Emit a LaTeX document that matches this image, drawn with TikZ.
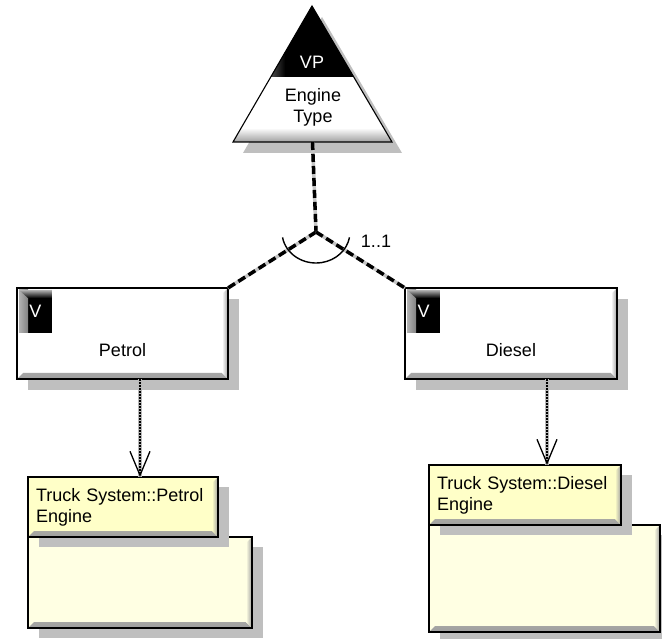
\documentclass[tikz,border=0pt]{standalone}
\usepackage{fontspec}
\setmainfont{Liberation Sans}
\usepackage{tikz}
\usetikzlibrary{arrows.meta,shadows,positioning}
\definecolor{hdryellow}{HTML}{FFFFC8}
\definecolor{bodyyellow}{HTML}{FFFFE3}

\begin{document}
\begin{tikzpicture}[x=1pt, y=-1pt, line width=1.1pt,
    every node/.style={font=\fontsize{18}{21}\selectfont, inner sep=0pt, outer sep=0pt},
    bevel/.style={path picture={
        \shade[top color=#1, bottom color=gray!75]
          (path picture bounding box.south west) -- (path picture bounding box.south east)
          -- ++(-6pt,6pt) -- ([shift={(6pt,6pt)}]path picture bounding box.south west) -- cycle;
        \shade[left color=#1, right color=gray!75]
          (path picture bounding box.south east) -- (path picture bounding box.north east)
          -- ++(-6pt,-6pt) -- ([shift={(-6pt,6pt)}]path picture bounding box.south east) -- cycle;
      }},
    varbox/.style={draw, rectangle, fill=white, bevel=white,
      drop shadow={shadow xshift=11pt, shadow yshift=-11pt, fill=gray!50, opacity=1}},
    classbox/.style={draw, rectangle, fill=#1, bevel=#1,
      drop shadow={shadow xshift=11pt, shadow yshift=-10pt, fill=gray!50, opacity=1}},
    vbox/.style={rectangle, fill=black, text=white, minimum width=33pt, minimum height=43pt,
      path picture={
        \shade[left color=gray!60, right color=black]
          (path picture bounding box.south west) rectangle ([xshift=9pt]path picture bounding box.north west);
        \shade[top color=gray!60, bottom color=black]
          (path picture bounding box.north west) -- (path picture bounding box.north east)
          -- ++(0pt,-8pt) -- ([shift={(9pt,-8pt)}]path picture bounding box.north west) -- cycle;
      }},
    vpedge/.style={preaction={draw, gray!45, line width=3.5pt}, black, line width=3.5pt,
      dash pattern=on 8pt off 4pt},
    dep/.style={preaction={draw, -, gray!55, line width=3.5pt}, black, line width=2.2pt,
      dash pattern=on 1.6pt off 1.4pt,
      -{Straight Barb[length=24pt, width=20pt, line width=1.3pt]}}]
    \useasboundingbox (0,0) rectangle (662,639);

    % Variation point
    \coordinate (vptop) at (312,6);
    \coordinate (vpleft) at (233,142);
    \coordinate (vpright) at (392,142);
    \coordinate (vpbase) at (312.5,142);
    \fill[gray!50] ([shift={(10pt,-11pt)}]vptop) -- ([shift={(10pt,-11pt)}]vpleft)
      -- ([shift={(10pt,-11pt)}]vpright) -- cycle;
    \begin{scope}
        \clip (vptop) -- (vpleft) -- (vpright) -- cycle;
        \fill[white] (230,0) rectangle (400,150);
        \fill[black] (230,0) rectangle (400,77);
        \shade[left color=gray!70, right color=black] (255,0) rectangle (285,77);
        \shade[top color=white, bottom color=gray!75] (230,128) rectangle (400,142);
    \end{scope}
    \draw (vptop) -- (vpleft) -- (vpright) -- cycle;
    \node[text=white] (vplabel) at (312,62) {VP};
    \node[align=center] (vpname) at (313,107.5) {Engine\\Type};

    % Variants
    \node[varbox, minimum width=211pt, minimum height=91pt] (petrol) at (122.5,333.5) {};
    \node[vbox, anchor=north west] (petrolv) at ([shift={(2pt,-2pt)}]petrol.north west) {V};
    \node (petrollabel) at ([yshift=-16.5pt]petrol.center) {Petrol};

    \node[varbox, minimum width=212pt, minimum height=91pt] (diesel) at (511,333.5) {};
    \node[vbox, anchor=north west] (dieselv) at ([shift={(2pt,-2pt)}]diesel.north west) {V};
    \node (diesellabel) at ([yshift=-16.5pt]diesel.center) {Diesel};

    % Alternative choice
    \coordinate (junc) at (316,232);
    \draw[vpedge] (vpbase) -- (junc);
    \draw[vpedge] (junc) -- (petrol.north east);
    \draw[vpedge] (junc) -- (diesel.north west);
    \draw[line width=1.4pt] ([shift={(190:34pt and 31pt)}]junc) arc[start angle=190, end angle=350, x radius=34pt, y radius=31pt];
    \node (card) at (376,241) {1..1};

    % Realising classes
    \node[classbox=bodyyellow, minimum width=224pt, minimum height=91pt] (petrolbody) at (140,582.5) {};
    \node[classbox=hdryellow, minimum width=190pt, minimum height=60pt, text width=174pt, align=left]
      (petrolhead) at (123,507) {Truck System::Petrol\\Engine};

    \node[classbox=bodyyellow, minimum width=231pt, minimum height=107pt] (dieselbody) at (544.5,578.5) {};
    \node[classbox=hdryellow, minimum width=192pt, minimum height=60pt, text width=176pt, align=left]
      (dieselhead) at (525,495) {Truck System::Diesel\\Engine};

    \draw[dep] ([xshift=17.5pt]petrol.south) -- ([xshift=17pt]petrolhead.north);
    \draw[dep] ([xshift=36pt]diesel.south) -- ([xshift=22pt]dieselhead.north);
\end{tikzpicture}
\end{document}
